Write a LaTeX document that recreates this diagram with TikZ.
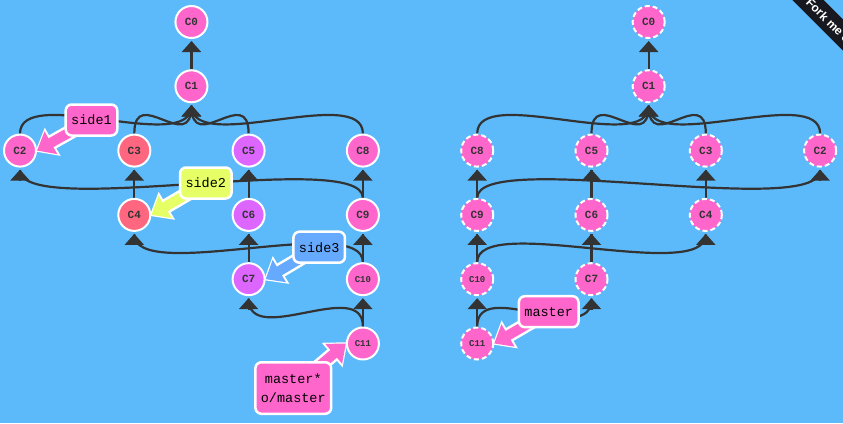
\documentclass[tikz,border=0pt]{standalone}
\usepackage{fontspec}
\setmonofont{Liberation Mono}
\newfontfamily\ribbonfont{Liberation Sans}
\usepackage{xcolor}
\usepackage{tikz}
\usetikzlibrary{arrows.meta, backgrounds}
\definecolor{mysky}{RGB}{92,186,250}
\definecolor{mypink}{RGB}{255,102,204}
\definecolor{myred}{RGB}{255,102,128}
\definecolor{mypurple}{RGB}{221,102,255}
\definecolor{mylime}{RGB}{230,255,102}
\definecolor{myblue}{RGB}{102,170,255}
\definecolor{mydark}{RGB}{51,51,51}
\definecolor{myribbon}{RGB}{24,24,32}
\tikzset{
  commit/.style={circle, draw=white, fill=mypink, line width=2pt,
    minimum size=32pt, inner sep=0pt, text=mydark,
    font=\fontsize{11}{11}\selectfont\ttfamily\bfseries},
  smallcommit/.style={font=\fontsize{9}{9}\selectfont\ttfamily\bfseries},
  remote/.style={dash pattern=on 5pt off 3pt},
  branch/.style={rectangle, draw=white, line width=2.5pt, rounded corners=6pt,
    minimum height=31pt, inner xsep=5.5pt, align=center, text=black,
    font=\fontsize{13.5}{19}\selectfont\ttfamily},
  edge/.style={draw=mydark, line width=2.2pt},
  edgetip/.style={draw=mydark, line width=2.2pt,
    -{Triangle[length=11pt,width=19pt]}},
  ptrline/.style={draw=white, line width=15pt, shorten >=-2pt,
    -{Triangle[length=20pt,width=31pt]}},
  ptr/.style={draw=#1, line width=10pt,
    -{Triangle[length=16pt,width=25pt]}},
  ribbon/.style={fill=myribbon, text=white, rotate=-45,
    minimum width=240pt, minimum height=22pt,
    font=\fontsize{12}{12}\ribbonfont\bfseries}
}
\newcommand{\commitedge}[2]{%
  \draw[edge] (#1.north) .. controls +(0,-50) and +(0,50) .. ([yshift=-2.5pt]#2.south);
  \draw[edgetip] ([yshift=-13.5pt]#2.south) -- ([yshift=-2pt]#2.south);}

\begin{document}
\begin{tikzpicture}[x=1pt, y=-1pt]
  \useasboundingbox (0,0) rectangle (843,423);

  % Local commits
  \node[commit] (c0) at (191.45,22) {C0};
  \node[commit] (c1) at (191.45,86.3) {C1};
  \node[commit] (c2) at (20,150.6) {C2};
  \node[commit, fill=myred] (c3) at (134.3,150.6) {C3};
  \node[commit, fill=mypurple] (c5) at (248.6,150.6) {C5};
  \node[commit] (c8) at (362.9,150.6) {C8};
  \node[commit, fill=myred] (c4) at (134.3,214.9) {C4};
  \node[commit, fill=mypurple] (c6) at (248.6,214.9) {C6};
  \node[commit] (c9) at (362.9,214.9) {C9};
  \node[commit, fill=mypurple] (c7) at (248.6,279.2) {C7};
  \node[commit, smallcommit] (c10) at (362.9,279.2) {C10};
  \node[commit, smallcommit] (c11) at (362.9,343.5) {C11};

  % Origin commits
  \node[commit, remote] (oc0) at (648.65,22) {C0};
  \node[commit, remote] (oc1) at (648.65,86.3) {C1};
  \node[commit, remote] (oc8) at (477.2,150.6) {C8};
  \node[commit, remote] (oc5) at (591.5,150.6) {C5};
  \node[commit, remote] (oc3) at (705.8,150.6) {C3};
  \node[commit, remote] (oc2) at (820.1,150.6) {C2};
  \node[commit, remote] (oc9) at (477.2,214.9) {C9};
  \node[commit, remote] (oc6) at (591.5,214.9) {C6};
  \node[commit, remote] (oc4) at (705.8,214.9) {C4};
  \node[commit, remote, smallcommit] (oc10) at (477.2,279.2) {C10};
  \node[commit, remote] (oc7) at (591.5,279.2) {C7};
  \node[commit, remote, smallcommit] (oc11) at (477.2,343.5) {C11};

  % Branch labels
  \node[branch, fill=mypink] (side1) at (91.5,120) {side1};
  \node[branch, fill=mylime] (side2) at (205.8,183) {side2};
  \node[branch, fill=myblue] (side3) at (319.2,247.2) {side3};
  \node[branch, fill=mypink, minimum height=51.5pt] (master) at (293.3,388) {master*\\o/master};
  \node[branch, fill=mypink] (omaster) at (548.7,311.7) {master};

  \begin{scope}[on background layer]
    \fill[mysky] (0,0) rectangle (843,423);

    % Parent links, local
    \commitedge{c1}{c0}
    \commitedge{c2}{c1}
    \commitedge{c3}{c1}
    \commitedge{c5}{c1}
    \commitedge{c8}{c1}
    \commitedge{c4}{c3}
    \commitedge{c6}{c5}
    \commitedge{c9}{c8}
    \commitedge{c9}{c2}
    \commitedge{c7}{c6}
    \commitedge{c10}{c9}
    \commitedge{c10}{c4}
    \commitedge{c11}{c10}
    \commitedge{c11}{c7}

    % Parent links, origin
    \commitedge{oc1}{oc0}
    \commitedge{oc8}{oc1}
    \commitedge{oc5}{oc1}
    \commitedge{oc3}{oc1}
    \commitedge{oc2}{oc1}
    \commitedge{oc9}{oc8}
    \commitedge{oc9}{oc2}
    \commitedge{oc6}{oc5}
    \commitedge{oc4}{oc3}
    \commitedge{oc10}{oc9}
    \commitedge{oc10}{oc4}
    \commitedge{oc7}{oc6}
    \commitedge{oc11}{oc10}
    \commitedge{oc11}{oc7}

    % Branch pointers
    \draw[ptrline] (side1.center) -- (c2.east);
    \draw[ptr=mypink] (side1.center) -- (c2.east);
    \draw[ptrline] (side2.center) -- (c4.east);
    \draw[ptr=mylime] (side2.center) -- (c4.east);
    \draw[ptrline] (side3.center) -- (c7.east);
    \draw[ptr=myblue] (side3.center) -- (c7.east);
    \draw[ptrline] (master.center) -- (c11.west);
    \draw[ptr=mypink] (master.center) -- (c11.west);
    \draw[ptrline] (omaster.center) -- (oc11.east);
    \draw[ptr=mypink] (omaster.center) -- (oc11.east);
  \end{scope}

  % Corner ribbon
  \begin{scope}
    \clip (0,0) rectangle (843,423);
    \node[ribbon] (fork) at (846.5,38.5) {Fork me on GitHub};
  \end{scope}
\end{tikzpicture}
\end{document}
